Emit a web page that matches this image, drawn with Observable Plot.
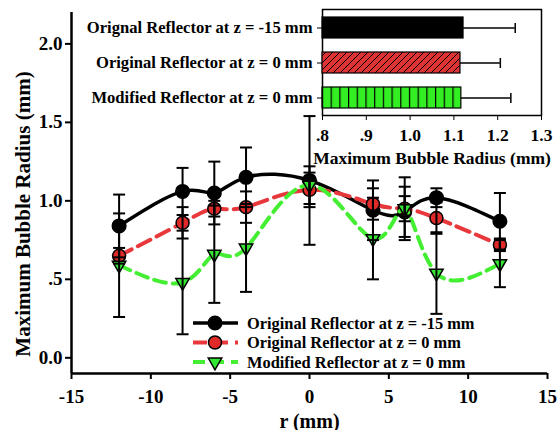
<!DOCTYPE html>
<html>
<head>
<meta charset="utf-8">
<script src="https://cdn.jsdelivr.net/npm/d3@7"></script>
<script src="https://cdn.jsdelivr.net/npm/@observablehq/plot@0.6"></script>
<style>
  body { margin: 0; background: #fff; }
  #wrap { position: relative; width: 557px; height: 430px; }
  #wrap svg, #wrap svg text { font-family: "Liberation Serif", "Times New Roman", serif !important; font-weight: bold; }
</style>
</head>
<body>
<div id="wrap"></div>
<script>
// ---- data ----
const r = [-12, -8, -6, -4, 0, 4, 6, 8, 12];
const blackVals = [0.84, 1.06, 1.05, 1.15, 1.13, 0.94, 0.93, 1.02, 0.87];
const blackErrs = [0.20, 0.15, 0.20, 0.19, 0.41, 0.19, 0.16, 0.06, 0.18];
const redVals   = [0.65, 0.86, 0.95, 0.96, 1.07, 0.98, 0.95, 0.89, 0.72];
const redErrs   = [0.05, 0.10, 0.05, 0.10, 0.11, 0.10, 0.08, 0.10, 0.04];
const greenVals = [0.59, 0.48, 0.66, 0.70, 1.10, 0.76, 0.95, 0.54, 0.60];
const greenErrs = [0.33, 0.33, 0.31, 0.28, 0.12, 0.26, 0.20, 0.26, 0.15];
const seriesNames = ["Original Reflector at z = -15 mm", "Original Reflector at z = 0 mm", "Modified Reflector at z = 0 mm"];
const xTicks = [-15, -10, -5, 0, 5, 10, 15];
const yTicks = [0, 0.5, 1.0, 1.5, 2.0];
const xDomain = [-15, 15];
const yDomain = [-0.1, 2.2];
const xTitle = "r (mm)";
const yTitle = "Maximum Bubble Radius (mm)";

const insetLabels = ["Orignal Reflector at z = -15 mm", "Original Reflector at z = 0 mm", "Modified Reflector at z = 0 mm"];
const insetMeans = [1.122, 1.115, 1.117];
const insetErrs = [0.118, 0.091, 0.113];
const insetTicks = [0.8, 0.9, 1.0, 1.1, 1.2, 1.3];
const insetDomain = [0.8, 1.3];
const insetTitle = "Maximum Bubble Radius (mm)";

// ---- styles ----
const styles = [
  {stroke: "#000000", fill: "#000000", dash: null, width: 3.5, symbol: "circle", r: 6.8, rotate: 0},
  {stroke: "#e8383c", fill: "#e02a2a", dash: "14,7", width: 4, symbol: "circle", r: 6.5, rotate: 0},
  {stroke: "#44ee33", fill: "#33e633", dash: "12,7", width: 4, symbol: "triangle", r: 5, rotate: 180}
];
const vals = [blackVals, redVals, greenVals];
const errs = [blackErrs, redErrs, greenErrs];
const series = seriesNames.map((name, i) => ({
  name, style: styles[i],
  rows: r.map((x, j) => ({r: x, v: vals[i][j], e: errs[i][j]}))
}));
const allRows = series.flatMap(s => s.rows);

const hcap = {draw(ctx) { ctx.moveTo(-6, 0); ctx.lineTo(6, 0); }};
const vcap = {draw(ctx) { ctx.moveTo(0, -5); ctx.lineTo(0, 5); }};
const fmtDot = v => v === 0 ? "0.0" : d3.format(".1f")(v).replace(/^0\./, ".");
const fmtInset = v => d3.format(".1f")(v).replace(/^0\./, ".");
const SERIF = "'Liberation Serif', 'Times New Roman', serif";

const font = {fontFamily: SERIF, fontWeight: "bold", background: "transparent", overflow: "visible"};

const marks = [
  Plot.ruleX([xDomain[0]], {stroke: "black", strokeWidth: 2.5}),
  Plot.ruleY([yDomain[0]], {stroke: "black", strokeWidth: 2.5}),
  Plot.axisY({ticks: yTicks, tickFormat: fmtDot, tickSize: 6, tickPadding: 3, strokeWidth: 2, fontSize: 19, label: null}),
  Plot.axisX({ticks: xTicks, tickFormat: d => String(d), tickSize: 6, tickPadding: 10, strokeWidth: 2, fontSize: 19, label: null}),
  Plot.axisX({ticks: [], fontSize: 20,
    label: xTitle, labelAnchor: "center", labelArrow: "none", labelOffset: 54})
];
for (const s of series) {
  marks.push(Plot.line(s.rows, {x: "r", y: "v", curve: "natural", stroke: s.style.stroke, strokeWidth: s.style.width, strokeDasharray: s.style.dash}));
  marks.push(Plot.dot(s.rows, {x: "r", y: "v", symbol: s.style.symbol, r: s.style.r, rotate: s.style.rotate, fill: s.style.fill, stroke: "black", strokeWidth: 1.5}));
}
marks.push(Plot.ruleX(allRows, {x: "r", y1: d => d.v - d.e, y2: d => d.v + d.e, stroke: "black", strokeWidth: 2}));
marks.push(Plot.dot(allRows, {x: "r", y: d => d.v + d.e, symbol: hcap, stroke: "black", strokeWidth: 2}));
marks.push(Plot.dot(allRows, {x: "r", y: d => d.v - d.e, symbol: hcap, stroke: "black", strokeWidth: 2}));

const main = Plot.plot({
  width: 557, height: 430,
  marginLeft: 71, marginRight: 10, marginTop: 12, marginBottom: 57,
  x: {domain: xDomain},
  y: {domain: yDomain},
  style: {...font, fontSize: "18px"},
  marks
});
main.style.position = "absolute"; main.style.left = "0px"; main.style.top = "0px";
const wrap = document.getElementById("wrap");
wrap.appendChild(main);

// ---- overlay: y title + legend ----
const overlay = d3.select(wrap).append("svg").attr("width", 557).attr("height", 430).style("position", "absolute").style("left", 0).style("top", 0);
overlay.append("text").attr("transform", "translate(23,214) rotate(-90)").attr("text-anchor", "middle").attr("dy", "0.35em")
  .style("font-family", SERIF).style("font-weight", "bold").style("font-size", "21px").text(yTitle);
series.forEach((s, i) => {
  const y = 323 + i * 19.5;
  const g = overlay.append("g").attr("transform", `translate(0,${y})`);
  g.append("line").attr("x1", 193).attr("x2", 238).attr("y1", 0).attr("y2", 0)
    .attr("stroke", s.style.stroke).attr("stroke-width", s.style.width).attr("stroke-dasharray", s.style.dash);
  const sym = d3.symbol(s.style.symbol === "circle" ? d3.symbolCircle : d3.symbolTriangle, Math.PI * s.style.r * s.style.r)();
  g.append("path").attr("d", sym).attr("transform", `translate(215,0) rotate(${s.style.rotate})`)
    .attr("fill", s.style.fill).attr("stroke", "black").attr("stroke-width", 1.5);
  g.append("text").attr("x", 247).attr("y", 0).attr("dy", "0.35em").text(s.name)
    .style("font-family", SERIF).style("font-weight", "bold").style("font-size", "16.4px");
});

// ---- inset ----
const insetRows = insetLabels.map((label, i) => ({label, mean: insetMeans[i], err: insetErrs[i], id: i}));
const fills = ["#000000", "url(#hatchRed)", "url(#stripeGreen)"];
const insetMarks = [
  Plot.frame({fill: "white", stroke: "black", strokeWidth: 1.5}),
  Plot.axisY({tickSize: 5, tickPadding: 5, fontSize: 16.6, label: null}),
  Plot.axisX({ticks: insetTicks, tickFormat: fmtInset, tickSize: 5, tickPadding: 8, fontSize: 17.5,
    label: insetTitle, labelAnchor: "center", labelArrow: "none", labelOffset: 48})
];
insetRows.forEach((d, i) => {
  insetMarks.push(Plot.barX([d], {y: "label", x1: () => insetDomain[0], x2: "mean", fill: fills[i], stroke: "black", strokeWidth: 1.2}));
});
insetMarks.push(Plot.ruleY(insetRows, {y: "label", x1: "mean", x2: d => d.mean + d.err, stroke: "black", strokeWidth: 1.5}));
insetMarks.push(Plot.dot(insetRows, {y: "label", x: d => d.mean + d.err, symbol: vcap, stroke: "black", strokeWidth: 1.5}));

const inset = Plot.plot({
  width: 557, height: 170,
  marginLeft: 322, marginRight: 16, marginTop: 9, marginBottom: 55,
  x: {domain: insetDomain},
  y: {domain: insetLabels, paddingInner: 0.4, paddingOuter: 0.2},
  style: {...font, fontSize: "16px"},
  marks: insetMarks
});
inset.style.position = "absolute"; inset.style.left = "0px"; inset.style.top = "0px";
const defs = d3.select(inset).insert("defs", ":first-child");
const p1 = defs.append("pattern").attr("id", "hatchRed").attr("patternUnits", "userSpaceOnUse").attr("width", 7).attr("height", 7);
p1.append("rect").attr("width", 7).attr("height", 7).attr("fill", "#dd3333");
p1.append("path").attr("d", "M0,7 L7,0 M-1,1 L1,-1 M6,8 L8,6").attr("stroke", "black").attr("stroke-width", 1);
const p2 = defs.append("pattern").attr("id", "stripeGreen").attr("patternUnits", "userSpaceOnUse").attr("width", 8.7).attr("height", 10);
p2.append("rect").attr("width", 8.7).attr("height", 10).attr("fill", "#33ee22");
p2.append("line").attr("x1", 0.6).attr("x2", 0.6).attr("y1", 0).attr("y2", 10).attr("stroke", "black").attr("stroke-width", 1.2);
wrap.appendChild(inset);
</script>
</body>
</html>
